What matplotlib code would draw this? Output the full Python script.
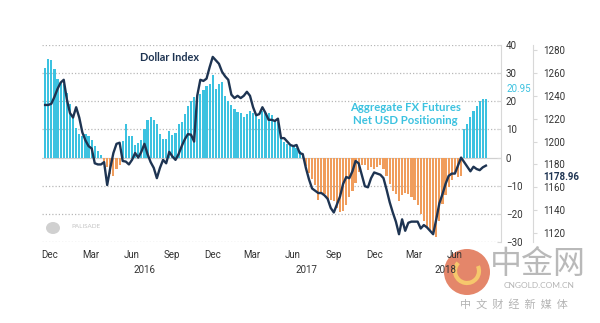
import numpy as np
import pandas as pd
import matplotlib
matplotlib.use('Agg')
import matplotlib.pyplot as plt
import matplotlib.dates as mdates
import matplotlib.transforms as mtransforms
from matplotlib.patches import Ellipse, Arc

# weekly data, first week ~ 20 Nov 2015
start = '2015-11-20'

# aggregate FX futures net USD positioning (bn)
positioning = [
    32, 35, 34.5, 31.5, 28, 26.5, 26, 23, 19, 14,
    10.5, 8.5, 7.8, 8.5, 7.5, 6.3, 4.2, 2.5, 1.0, -1.5,
    -3.5, -6, -6.5, -4, -2.5, 6, 12, 7.5, 7.5, 4.6,
    5.2, 6.3, 10, 13.5, 14.5, 13.5, 12, 8.5, 6.5, 6.5,
    9.5, 8, 8.8, 12, 12.6, 15.5, 18.5, 20, 21.5, 21,
    22.5, 24, 25.3, 26, 29.3, 24.5, 26, 27, 22, 20.2,
    18.6, 17.4, 16.3, 16, 14.5, 15.5, 16.7, 16, 14.8, 13.6,
    16.5, 16, 16, 15, 13.5, 12.6, 7, 5.5, 4.8, 4.2,
    4, 3.5, 2.5, 1, -3, -5.4, -7.5, -9.7, -15, -12.5,
    -13, -15, -15, -15.5, -18, -19.5, -19, -17, -14, -11.8,
    -9, -5.3, -2.5, -2.8, -4.3, -3.2, -4.2, -3.5, -2.5, -4,
    -6.5, -9.5, -12, -12.8, -15.3, -13.2, -12.6, -13, -14, -15.2,
    -17, -20, -22.5, -24.5, -26, -27.3, -28.2, -22.5, -16.5, -13.2,
    -10.4, -7.8, -5, -7, -6.5, 10, 12, 14.5, 16.5, 18.5,
    20, 20.9, 20.95,
]

# dollar index (right axis)
dollar_index = [
    1232, 1232, 1233, 1239, 1246, 1251.5, 1254, 1237, 1225, 1221,
    1230, 1221, 1208, 1201, 1196, 1194, 1181, 1180, 1180, 1182,
    1162, 1177, 1190, 1198, 1199, 1183, 1182.5, 1180, 1184, 1190,
    1186, 1191, 1198, 1189, 1182, 1177, 1168, 1177, 1184, 1181,
    1191, 1187, 1184, 1189, 1196, 1202, 1206.5, 1206, 1200, 1240,
    1254, 1253, 1255, 1265, 1274, 1271, 1268, 1261, 1257, 1254,
    1241, 1238, 1240, 1238, 1240, 1243.5, 1240, 1230, 1223, 1224,
    1230, 1225, 1219, 1219, 1218, 1220, 1203, 1203, 1200, 1197,
    1196, 1197, 1190, 1189, 1177, 1167, 1159, 1157, 1155, 1155,
    1153, 1150, 1142, 1138, 1145, 1152, 1163, 1169, 1168, 1174,
    1183, 1181, 1171, 1161, 1160, 1168, 1173, 1172, 1171, 1168,
    1158, 1147, 1138, 1130, 1119, 1132, 1122, 1129, 1130, 1130,
    1130, 1124, 1127, 1125, 1122, 1119, 1132, 1146, 1154, 1163,
    1170, 1172, 1172, 1179, 1186, 1182, 1178, 1174, 1178, 1176,
    1175, 1177.5, 1178.96,
]

month_ticks = ['2015-12-01', '2016-03-01', '2016-06-01', '2016-09-01',
               '2016-12-01', '2017-03-01', '2017-06-01', '2017-09-01',
               '2017-12-01', '2018-03-01', '2018-06-01']
month_labels = ['Dec', 'Mar', 'Jun', 'Sep', 'Dec', 'Mar', 'Jun', 'Sep',
                'Dec', 'Mar', 'Jun']
year_labels = ['2016', '2017', '2018']
year_pos = ['2016-07-01', '2017-07-01', '2018-05-10']

pos_ticks = [-30, -20, -10, 0, 10, 20, 30, 40]
dxy_ticks = [1120, 1140, 1160, 1180, 1200, 1220, 1240, 1260, 1280]

CYAN = '#3cc2e0'
ORANGE = '#f09d5c'
NAVY = '#1e3452'
TEXT = '#333333'

plt.rcParams['font.family'] = ['Lato', 'DejaVu Sans']

weeks = pd.date_range(start, periods=len(positioning), freq='7D')
pos = np.array(positioning)
colors = [CYAN if v >= 0 else ORANGE for v in pos]

W, H = 600, 323
fig = plt.figure(figsize=(6, 3.23), dpi=100)
ax = fig.add_axes([42 / W, 1 - 242 / H, (501 - 42) / W, (242 - 45) / H])
ax2 = ax.twinx()
ax.patch.set_visible(False)

ax.bar(weeks, pos, width=4.9, color=colors, zorder=2)
ax.set_ylim(-30, 40)
ax.set_xlim(pd.Timestamp('2015-11-13'), pd.Timestamp('2018-09-13'))

for t in pos_ticks:
    if t == 0:
        ax.axhline(0, color='#d0d0d0', lw=0.9, zorder=1)
    else:
        ax.axhline(t, color='#b8b8b8', lw=0.9, ls=(0, (1.0, 1.6)), zorder=1)

for s in ['top', 'left', 'bottom']:
    ax.spines[s].set_visible(False)
ax.spines['right'].set_color('#d8d8d8')
ax.spines['right'].set_linewidth(0.8)
ax.yaxis.tick_right()
ax.set_yticks(pos_ticks)
ax.tick_params(axis='y', which='both', left=False, labelleft=False,
               right=True, labelright=True, direction='in', length=3,
               width=0.8, color='#d8d8d8', pad=3.5, labelsize=7,
               labelcolor=TEXT)
for lab in ax.get_yticklabels():
    lab.set_family('Roboto')

ax.set_xticks(pd.to_datetime(month_ticks))
ax.set_xticklabels(month_labels, family='Roboto', fontsize=7, color=TEXT)
ax.tick_params(axis='x', length=0, pad=6)

trans = mtransforms.blended_transform_factory(ax.transData, ax.transAxes)
for lab, d in zip(year_labels, year_pos):
    ax.text(mdates.date2num(pd.Timestamp(d)), -0.142, lab, transform=trans,
            ha='center', va='center', fontsize=7, color=TEXT, family='Roboto')

ax2.plot(weeks, dollar_index, color=NAVY, lw=1.7, zorder=3,
         solid_joinstyle='round')
ax2.set_ylim(1112.2, 1284.4)
ax2.set_yticks(dxy_ticks)
for s in ['top', 'left', 'bottom']:
    ax2.spines[s].set_visible(False)
ax2.spines['right'].set_position(('outward', 23))
ax2.spines['right'].set_color('#d8d8d8')
ax2.spines['right'].set_linewidth(0.8)
ax2.tick_params(axis='y', direction='out', length=3, width=0.8, color='#d8d8d8',
                pad=4, labelsize=7, labelcolor=TEXT)
for lab in ax2.get_yticklabels():
    lab.set_family('Roboto')

# annotations
fig.text(170 / W, 1 - 57.5 / H, 'Dollar Index', ha='center', va='center',
         fontsize=7.8, fontweight='bold', color=NAVY)
fig.text(405 / W, 1 - 114 / H, 'Aggregate FX Futures\nNet USD Positioning',
         ha='center', va='center', fontsize=8.2, fontweight='bold',
         color=CYAN, linespacing=1.2)
fig.text(519 / W, 1 - 89 / H, '20.95', ha='center', va='center',
         fontsize=7, color=CYAN, family='Roboto')
fig.text(561 / W, 1 - 176.5 / H, '1178.96', ha='center', va='center',
         fontsize=7, fontweight='bold', color=NAVY, family='Roboto')

# palisade logo
fig.add_artist(Ellipse((53 / W, 1 - 228 / H), 14 / W, 12 / H,
                       transform=fig.transFigure, color='#d0d0d0', lw=0))
fig.text(86 / W, 1 - 226 / H, 'PALISADE', ha='center', va='center',
         fontsize=4.5, color='#c4c4c4')

# watermark (behind the axes texts)
fig.add_artist(Ellipse((467 / W, 1 - 272 / H), 46 / W, 46 / H,
                       transform=fig.transFigure, color='#e2795a', lw=0,
                       alpha=0.9, zorder=-2))
fig.add_artist(Arc((467 / W, 1 - 271 / H), 24 / W, 24 / H, theta1=120,
                   theta2=400, transform=fig.transFigure, color='#f6c76c',
                   lw=3, zorder=-1))
fig.text(538 / W, 1 - 264 / H, '中金网', ha='center', va='center', fontsize=23,
         color='#a8a8a8', family=['Noto Sans CJK SC'], alpha=0.8)
fig.text(539 / W, 1 - 286 / H, 'CNGOLD.COM.CN', ha='center', va='center',
         fontsize=6, color='#b4b4b4')
fig.text(514 / W, 1 - 304 / H, '中  文  财  经  新  媒  体', ha='center',
         va='center', fontsize=8, color='#b4b4b4',
         family=['Noto Sans CJK SC'])

fig.savefig('out.png', dpi=100)
plt.close()
